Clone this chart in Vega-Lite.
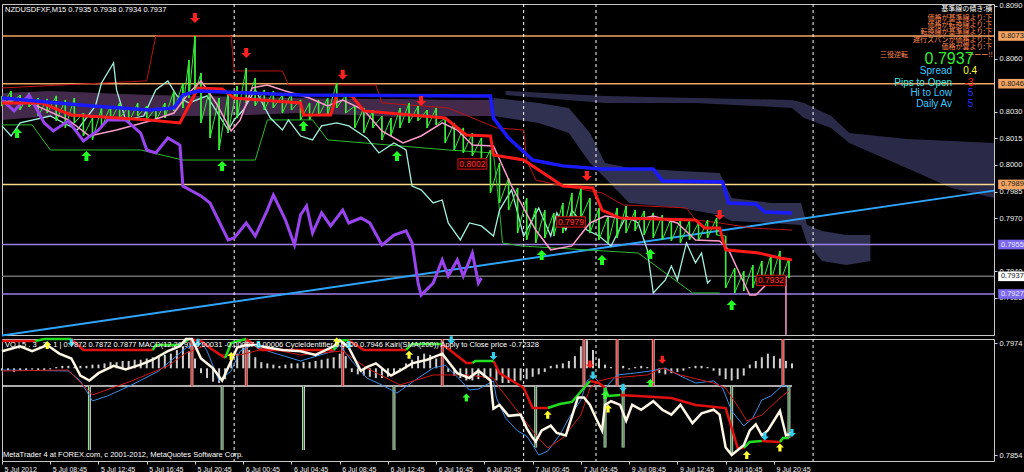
{
"$schema":"https://vega.github.io/schema/vega-lite/v6.json",
"background":"#000000",
"padding":{"left":-6,"top":1,"right":0,"bottom":0},
"spacing":4,
"bounds":"flush",
"config":{"view":{"stroke":"#c8c8c8","strokeWidth":1},"text":{"font":"Liberation Sans"},"axis":{"labelFont":"Liberation Sans"}},
"datasets":{
"bars":[{"i":0,"h":0.80391,"l":0.80334},{"i":3,"h":0.80419,"l":0.80351},{"i":6,"h":0.80396,"l":0.80311},{"i":9,"h":0.80408,"l":0.80328},{"i":12,"h":0.80379,"l":0.80277},{"i":15,"h":0.80374,"l":0.80294},{"i":18,"h":0.80391,"l":0.80249},{"i":21,"h":0.80368,"l":0.8021},{"i":24,"h":0.80379,"l":0.80238},{"i":27,"h":0.80294,"l":0.80164},{"i":30,"h":0.80266,"l":0.80142},{"i":33,"h":0.80323,"l":0.8021},{"i":36,"h":0.80334,"l":0.80249},{"i":39,"h":0.80351,"l":0.80266},{"i":42,"h":0.80328,"l":0.80238},{"i":45,"h":0.80351,"l":0.80277},{"i":48,"h":0.80334,"l":0.80255},{"i":51,"h":0.80323,"l":0.80249},{"i":54,"h":0.80351,"l":0.80266},{"i":57,"h":0.80419,"l":0.80306},{"i":60,"h":0.80464,"l":0.80323},{"i":62,"h":0.80594,"l":0.80379},{"i":64,"h":0.8073,"l":0.80408},{"i":66,"h":0.80521,"l":0.80238},{"i":69,"h":0.80436,"l":0.80153},{"i":72,"h":0.80379,"l":0.80085},{"i":75,"h":0.80408,"l":0.80181},{"i":78,"h":0.80447,"l":0.80266},{"i":81,"h":0.80549,"l":0.80351},{"i":84,"h":0.80492,"l":0.80334},{"i":87,"h":0.80425,"l":0.80311},{"i":90,"h":0.80419,"l":0.80323},{"i":93,"h":0.80396,"l":0.80294},{"i":96,"h":0.80408,"l":0.80311},{"i":99,"h":0.80368,"l":0.80255},{"i":102,"h":0.80351,"l":0.80255},{"i":105,"h":0.80368,"l":0.80277},{"i":108,"h":0.80379,"l":0.80283},{"i":111,"h":0.80464,"l":0.80323},{"i":114,"h":0.80396,"l":0.80294},{"i":117,"h":0.80334,"l":0.8021},{"i":120,"h":0.80323,"l":0.80181},{"i":123,"h":0.80311,"l":0.8021},{"i":126,"h":0.80277,"l":0.80142},{"i":129,"h":0.80266,"l":0.80164},{"i":132,"h":0.80323,"l":0.8021},{"i":135,"h":0.80351,"l":0.80238},{"i":138,"h":0.80334,"l":0.80249},{"i":141,"h":0.80311,"l":0.8021},{"i":144,"h":0.80323,"l":0.80227},{"i":147,"h":0.80266,"l":0.80125},{"i":150,"h":0.80238,"l":0.80085},{"i":153,"h":0.8021,"l":0.80068},{"i":156,"h":0.80181,"l":0.80051},{"i":159,"h":0.80153,"l":0.79983},{"i":162,"h":0.80085,"l":0.79842},{"i":165,"h":0.80011,"l":0.79785},{"i":168,"h":0.79926,"l":0.79745},{"i":171,"h":0.7987,"l":0.79615},{"i":174,"h":0.79813,"l":0.79576},{"i":177,"h":0.79757,"l":0.79559},{"i":180,"h":0.79745,"l":0.79587},{"i":183,"h":0.79729,"l":0.79598},{"i":186,"h":0.79785,"l":0.79615},{"i":189,"h":0.79842,"l":0.79661},{"i":192,"h":0.7987,"l":0.797},{"i":195,"h":0.79813,"l":0.79615},{"i":198,"h":0.79757,"l":0.79576},{"i":201,"h":0.79711,"l":0.79559},{"i":204,"h":0.79757,"l":0.79587},{"i":207,"h":0.79768,"l":0.79615},{"i":210,"h":0.79745,"l":0.79627},{"i":213,"h":0.7974,"l":0.79604},{"i":216,"h":0.79729,"l":0.79587},{"i":219,"h":0.79717,"l":0.79576},{"i":222,"h":0.797,"l":0.7957},{"i":225,"h":0.79689,"l":0.79559},{"i":228,"h":0.79683,"l":0.79576},{"i":231,"h":0.79672,"l":0.7957},{"i":234,"h":0.79689,"l":0.79587},{"i":237,"h":0.797,"l":0.79604},{"i":240,"h":0.79598,"l":0.79304},{"i":243,"h":0.79417,"l":0.79276},{"i":246,"h":0.794,"l":0.79287},{"i":249,"h":0.79434,"l":0.79304},{"i":252,"h":0.79457,"l":0.79321},{"i":255,"h":0.7949,"l":0.79344},{"i":258,"h":0.79513,"l":0.79332},{"i":261,"h":0.79474,"l":0.79361}],
"blue":[{"i":0,"p":0.80379},{"i":30,"p":0.80334},{"i":49,"p":0.80311},{"i":57,"p":0.80323},{"i":60,"p":0.80396},{"i":65,"p":0.80419},{"i":99,"p":0.80396},{"i":162,"p":0.80391},{"i":163,"p":0.80266},{"i":168,"p":0.80153},{"i":176,"p":0.80028},{"i":186,"p":0.79995},{"i":199,"p":0.79978},{"i":216,"p":0.79978},{"i":219,"p":0.7991},{"i":239,"p":0.79904},{"i":241,"p":0.79785},{"i":250,"p":0.79779},{"i":253,"p":0.79734},{"i":262,"p":0.79729}],
"redk":[{"i":0,"p":0.80351},{"i":13,"p":0.80351},{"i":23,"p":0.80283},{"i":49,"p":0.80255},{"i":59,"p":0.80238},{"i":65,"p":0.80436},{"i":73,"p":0.8043},{"i":77,"p":0.80379},{"i":99,"p":0.80351},{"i":100,"p":0.80283},{"i":109,"p":0.80283},{"i":111,"p":0.80396},{"i":116,"p":0.80391},{"i":120,"p":0.80306},{"i":147,"p":0.80266},{"i":154,"p":0.8017},{"i":162,"p":0.80164},{"i":163,"p":0.80057},{"i":173,"p":0.80028},{"i":186,"p":0.79881},{"i":196,"p":0.7987},{"i":199,"p":0.79745},{"i":205,"p":0.797},{"i":230,"p":0.79689},{"i":233,"p":0.79644},{"i":238,"p":0.79644},{"i":240,"p":0.7952},{"i":251,"p":0.79502},{"i":258,"p":0.79474},{"i":262,"p":0.79463}],
"purple":[{"i":0,"p":0.80368},{"i":4,"p":0.80306},{"i":9,"p":0.80396},{"i":14,"p":0.80238},{"i":17,"p":0.80193},{"i":22,"p":0.80249},{"i":27,"p":0.80136},{"i":32,"p":0.80198},{"i":35,"p":0.80255},{"i":41,"p":0.80255},{"i":46,"p":0.80181},{"i":48,"p":0.80085},{"i":51,"p":0.80068},{"i":55,"p":0.80153},{"i":59,"p":0.80113},{"i":60,"p":0.79881},{"i":66,"p":0.79825},{"i":69,"p":0.79785},{"i":75,"p":0.79576},{"i":77,"p":0.79587},{"i":81,"p":0.79672},{"i":84,"p":0.79598},{"i":88,"p":0.79745},{"i":90,"p":0.7983},{"i":94,"p":0.79689},{"i":97,"p":0.79547},{"i":99,"p":0.79717},{"i":101,"p":0.79768},{"i":103,"p":0.79615},{"i":106,"p":0.79729},{"i":109,"p":0.79655},{"i":113,"p":0.79745},{"i":115,"p":0.79672},{"i":119,"p":0.797},{"i":122,"p":0.79672},{"i":126,"p":0.79547},{"i":130,"p":0.79604},{"i":134,"p":0.79627},{"i":136,"p":0.79559},{"i":138,"p":0.79332},{"i":139,"p":0.79264},{"i":143,"p":0.79332},{"i":146,"p":0.79463},{"i":148,"p":0.79372},{"i":151,"p":0.79463},{"i":153,"p":0.79372},{"i":156,"p":0.79502},{"i":158,"p":0.79332},{"i":159,"p":0.79361}],
"pink":[{"i":0,"p":0.80351},{"i":6,"p":0.80379},{"i":13,"p":0.80323},{"i":22,"p":0.80255},{"i":29,"p":0.80164},{"i":38,"p":0.80198},{"i":49,"p":0.80249},{"i":57,"p":0.80294},{"i":62,"p":0.80408},{"i":66,"p":0.80476},{"i":71,"p":0.80351},{"i":76,"p":0.80193},{"i":79,"p":0.80255},{"i":83,"p":0.80436},{"i":88,"p":0.80453},{"i":94,"p":0.80419},{"i":102,"p":0.80379},{"i":108,"p":0.80334},{"i":113,"p":0.80368},{"i":120,"p":0.80311},{"i":126,"p":0.80193},{"i":133,"p":0.80125},{"i":139,"p":0.80164},{"i":146,"p":0.80238},{"i":151,"p":0.80198},{"i":156,"p":0.80113},{"i":163,"p":0.80108},{"i":169,"p":0.79881},{"i":177,"p":0.79632},{"i":182,"p":0.7952},{"i":189,"p":0.79542},{"i":195,"p":0.79672},{"i":200,"p":0.79711},{"i":210,"p":0.79689},{"i":216,"p":0.79711},{"i":224,"p":0.79672},{"i":230,"p":0.79576},{"i":238,"p":0.7957},{"i":241,"p":0.7952},{"i":245,"p":0.79372},{"i":248,"p":0.79264},{"i":250,"p":0.79264},{"i":254,"p":0.79332},{"i":259,"p":0.79366}],
"cyan":[{"i":0,"p":0.80221},{"i":3,"p":0.80164},{"i":6,"p":0.80238},{"i":16,"p":0.80277},{"i":25,"p":0.80198},{"i":31,"p":0.80334},{"i":33,"p":0.80464},{"i":37,"p":0.80577},{"i":38,"p":0.80425},{"i":41,"p":0.80255},{"i":47,"p":0.80277},{"i":51,"p":0.80425},{"i":55,"p":0.80476},{"i":58,"p":0.80391},{"i":62,"p":0.80351},{"i":68,"p":0.80391},{"i":75,"p":0.80198},{"i":77,"p":0.80255},{"i":80,"p":0.80311},{"i":84,"p":0.80425},{"i":89,"p":0.80266},{"i":93,"p":0.80198},{"i":95,"p":0.80255},{"i":99,"p":0.80164},{"i":103,"p":0.80142},{"i":106,"p":0.80221},{"i":111,"p":0.80238},{"i":115,"p":0.80221},{"i":121,"p":0.80153},{"i":125,"p":0.80068},{"i":130,"p":0.80125},{"i":134,"p":0.80085},{"i":136,"p":0.79881},{"i":139,"p":0.79859},{"i":143,"p":0.79785},{"i":146,"p":0.79802},{"i":148,"p":0.79672},{"i":152,"p":0.79576},{"i":155,"p":0.79672},{"i":159,"p":0.79655},{"i":163,"p":0.79598},{"i":165,"p":0.79745},{"i":169,"p":0.79859},{"i":173,"p":0.79598},{"i":178,"p":0.79757},{"i":182,"p":0.79598},{"i":184,"p":0.79729},{"i":187,"p":0.79632},{"i":189,"p":0.79745},{"i":194,"p":0.79632},{"i":198,"p":0.79598},{"i":202,"p":0.79542},{"i":207,"p":0.79711},{"i":211,"p":0.79672},{"i":214,"p":0.7952},{"i":216,"p":0.79276},{"i":220,"p":0.7935},{"i":222,"p":0.79428},{"i":224,"p":0.7935},{"i":227,"p":0.79559},{"i":230,"p":0.79446},{"i":232,"p":0.79502},{"i":234,"p":0.79332},{"i":235,"p":0.7935}],
"greenthin":[{"i":0,"p":0.80227},{"i":10,"p":0.80227},{"i":16,"p":0.80085},{"i":46,"p":0.80085},{"i":60,"p":0.80028},{"i":84,"p":0.80028},{"i":88,"p":0.80255},{"i":103,"p":0.80255},{"i":108,"p":0.80142},{"i":148,"p":0.80085},{"i":163,"p":0.80068},{"i":165,"p":0.79745},{"i":166,"p":0.79559},{"i":172,"p":0.79542},{"i":211,"p":0.79502},{"i":229,"p":0.79276},{"i":238,"p":0.79276}],
"redthin":[{"i":0,"p":0.80436},{"i":48,"p":0.80476},{"i":51,"p":0.8073},{"i":76,"p":0.8073},{"i":77,"p":0.80532},{"i":93,"p":0.80532},{"i":95,"p":0.80453},{"i":124,"p":0.80453},{"i":126,"p":0.80351},{"i":148,"p":0.80323},{"i":164,"p":0.8021},{"i":173,"p":0.80198},{"i":174,"p":0.80028},{"i":177,"p":0.79915},{"i":186,"p":0.79881},{"i":199,"p":0.79842},{"i":206,"p":0.79774},{"i":227,"p":0.79757},{"i":230,"p":0.79689},{"i":238,"p":0.79672},{"i":249,"p":0.79643},{"i":262,"p":0.79632}],
"hist":[{"i":0,"v":74,"z":76},{"i":2,"v":74,"z":76},{"i":4,"v":73,"z":76},{"i":6,"v":74,"z":76},{"i":8,"v":74,"z":76},{"i":10,"v":75,"z":76},{"i":12,"v":74,"z":76},{"i":14,"v":74,"z":76},{"i":16,"v":75,"z":76},{"i":18,"v":77,"z":76},{"i":20,"v":78,"z":76},{"i":22,"v":78,"z":76},{"i":24,"v":77,"z":76},{"i":26,"v":78,"z":76},{"i":28,"v":78,"z":76},{"i":30,"v":79,"z":76},{"i":32,"v":79,"z":76},{"i":34,"v":80,"z":76},{"i":36,"v":81,"z":76},{"i":38,"v":81,"z":76},{"i":40,"v":82,"z":76},{"i":42,"v":82,"z":76},{"i":44,"v":83,"z":76},{"i":46,"v":83,"z":76},{"i":48,"v":84,"z":76},{"i":50,"v":85,"z":76},{"i":52,"v":86,"z":76},{"i":54,"v":87,"z":76},{"i":56,"v":88,"z":76},{"i":58,"v":91,"z":76},{"i":60,"v":94,"z":76},{"i":62,"v":90,"z":76},{"i":64,"v":84,"z":76},{"i":66,"v":72,"z":76},{"i":68,"v":68,"z":76},{"i":70,"v":65,"z":76},{"i":72,"v":64,"z":76},{"i":74,"v":67,"z":76},{"i":76,"v":81,"z":76},{"i":78,"v":88,"z":76},{"i":80,"v":93,"z":76},{"i":82,"v":91,"z":76},{"i":84,"v":85,"z":76},{"i":86,"v":81,"z":76},{"i":88,"v":80,"z":76},{"i":90,"v":79,"z":76},{"i":92,"v":78,"z":76},{"i":94,"v":79,"z":76},{"i":96,"v":80,"z":76},{"i":98,"v":80,"z":76},{"i":100,"v":81,"z":76},{"i":102,"v":81,"z":76},{"i":104,"v":82,"z":76},{"i":106,"v":83,"z":76},{"i":108,"v":84,"z":76},{"i":110,"v":85,"z":76},{"i":112,"v":88,"z":76},{"i":114,"v":86,"z":76},{"i":116,"v":73,"z":76},{"i":118,"v":71,"z":76},{"i":120,"v":70,"z":76},{"i":122,"v":69,"z":76},{"i":124,"v":68,"z":76},{"i":126,"v":68,"z":76},{"i":128,"v":69,"z":76},{"i":130,"v":71,"z":76},{"i":132,"v":74,"z":76},{"i":134,"v":80,"z":76},{"i":136,"v":83,"z":76},{"i":138,"v":86,"z":76},{"i":140,"v":88,"z":76},{"i":142,"v":87,"z":76},{"i":144,"v":84,"z":76},{"i":146,"v":79,"z":76},{"i":148,"v":73,"z":76},{"i":150,"v":70,"z":76},{"i":152,"v":68,"z":76},{"i":154,"v":66,"z":76},{"i":156,"v":66,"z":76},{"i":158,"v":67,"z":76},{"i":160,"v":68,"z":76},{"i":162,"v":69,"z":76},{"i":164,"v":66,"z":76},{"i":166,"v":64,"z":76},{"i":168,"v":64,"z":76},{"i":170,"v":65,"z":76},{"i":172,"v":66,"z":76},{"i":174,"v":67,"z":76},{"i":176,"v":69,"z":76},{"i":178,"v":71,"z":76},{"i":180,"v":73,"z":76},{"i":182,"v":78,"z":76},{"i":184,"v":79,"z":76},{"i":186,"v":80,"z":76},{"i":188,"v":82,"z":76},{"i":190,"v":86,"z":76},{"i":192,"v":94,"z":76},{"i":194,"v":99,"z":76},{"i":196,"v":91,"z":76},{"i":198,"v":84,"z":76},{"i":200,"v":79,"z":76},{"i":202,"v":77,"z":76},{"i":204,"v":78,"z":76},{"i":206,"v":78,"z":76},{"i":208,"v":75,"z":76},{"i":210,"v":77,"z":76},{"i":212,"v":78,"z":76},{"i":214,"v":77,"z":76},{"i":216,"v":73,"z":76},{"i":218,"v":72,"z":76},{"i":220,"v":71,"z":76},{"i":222,"v":72,"z":76},{"i":224,"v":73,"z":76},{"i":226,"v":74,"z":76},{"i":228,"v":77,"z":76},{"i":230,"v":78,"z":76},{"i":232,"v":78,"z":76},{"i":234,"v":77,"z":76},{"i":236,"v":74,"z":76},{"i":238,"v":70,"z":76},{"i":240,"v":67,"z":76},{"i":242,"v":66,"z":76},{"i":244,"v":67,"z":76},{"i":246,"v":70,"z":76},{"i":248,"v":79,"z":76},{"i":250,"v":82,"z":76},{"i":252,"v":85,"z":76},{"i":254,"v":88,"z":76},{"i":256,"v":86,"z":76},{"i":258,"v":84,"z":76},{"i":260,"v":82,"z":76},{"i":262,"v":80,"z":76}],
"white":[{"i":0,"v":90},{"i":6,"v":94},{"i":10,"v":90},{"i":15,"v":95},{"i":19,"v":88},{"i":23,"v":84},{"i":26,"v":70},{"i":29,"v":66},{"i":32,"v":72},{"i":37,"v":78},{"i":41,"v":75},{"i":46,"v":79},{"i":50,"v":83},{"i":55,"v":90},{"i":59,"v":94},{"i":61,"v":100},{"i":63,"v":100},{"i":66,"v":84},{"i":70,"v":76},{"i":73,"v":66},{"i":76,"v":82},{"i":78,"v":93},{"i":81,"v":95},{"i":84,"v":95},{"i":88,"v":93},{"i":93,"v":91},{"i":99,"v":90},{"i":104,"v":87},{"i":110,"v":94},{"i":112,"v":99},{"i":115,"v":93},{"i":119,"v":74},{"i":121,"v":77},{"i":124,"v":80},{"i":129,"v":70},{"i":132,"v":74},{"i":136,"v":80},{"i":141,"v":83},{"i":146,"v":88},{"i":151,"v":72},{"i":155,"v":68},{"i":158,"v":74},{"i":162,"v":66},{"i":163,"v":43},{"i":165,"v":46},{"i":168,"v":37},{"i":172,"v":38},{"i":174,"v":27},{"i":176,"v":19},{"i":177,"v":16},{"i":179,"v":25},{"i":182,"v":29},{"i":184,"v":23},{"i":187,"v":21},{"i":191,"v":52},{"i":193,"v":52},{"i":195,"v":46},{"i":197,"v":35},{"i":199,"v":25},{"i":200,"v":46},{"i":202,"v":49},{"i":205,"v":46},{"i":207,"v":33},{"i":209,"v":46},{"i":212,"v":42},{"i":216,"v":49},{"i":219,"v":42},{"i":222,"v":38},{"i":225,"v":46},{"i":229,"v":31},{"i":232,"v":39},{"i":236,"v":42},{"i":238,"v":38},{"i":240,"v":11},{"i":242,"v":5},{"i":246,"v":13},{"i":248,"v":25},{"i":250,"v":30},{"i":252,"v":21},{"i":254,"v":25},{"i":258,"v":41},{"i":260,"v":21},{"i":262,"v":23}],
"bluethin":[{"i":0,"v":74.6},{"i":22,"v":73.8},{"i":26,"v":65.6},{"i":30,"v":49.2},{"i":35,"v":53.3},{"i":43,"v":62.3},{"i":52,"v":73.8},{"i":61,"v":92.6},{"i":66,"v":98.4},{"i":68,"v":90.2},{"i":72,"v":65.6},{"i":76,"v":73.8},{"i":79,"v":90.2},{"i":83,"v":95.1},{"i":88,"v":90.2},{"i":99,"v":82},{"i":110,"v":90.2},{"i":112,"v":95.1},{"i":116,"v":82},{"i":121,"v":68},{"i":126,"v":62.3},{"i":131,"v":55.7},{"i":138,"v":68},{"i":143,"v":76.2},{"i":147,"v":78.7},{"i":152,"v":66.4},{"i":155,"v":58.2},{"i":158,"v":59},{"i":163,"v":65.6},{"i":164,"v":51.6},{"i":167,"v":35.2},{"i":171,"v":24.6},{"i":174,"v":20.5},{"i":176,"v":13.1},{"i":178,"v":4.9},{"i":181,"v":8.2},{"i":185,"v":21.3},{"i":188,"v":35.2},{"i":192,"v":50},{"i":194,"v":65.6},{"i":196,"v":69.7},{"i":200,"v":59.8},{"i":204,"v":70.5},{"i":210,"v":72.1},{"i":215,"v":73.8},{"i":220,"v":76.2},{"i":225,"v":69.7},{"i":230,"v":63.9},{"i":236,"v":65.6},{"i":239,"v":59.8},{"i":242,"v":41},{"i":246,"v":28.7},{"i":249,"v":35.2},{"i":252,"v":50},{"i":255,"v":53.3},{"i":259,"v":62.3},{"i":261,"v":59.8}],
"redthin2":[{"i":0,"v":73.8},{"i":22,"v":74.6},{"i":30,"v":54.1},{"i":43,"v":65.6},{"i":55,"v":77.9},{"i":61,"v":88.5},{"i":68,"v":95.1},{"i":72,"v":86.9},{"i":79,"v":86.9},{"i":88,"v":92.6},{"i":99,"v":86.9},{"i":113,"v":90.2},{"i":121,"v":76.2},{"i":132,"v":62.3},{"i":143,"v":70.5},{"i":154,"v":70.5},{"i":163,"v":68},{"i":165,"v":59.8},{"i":172,"v":37.7},{"i":177,"v":21.3},{"i":181,"v":10.7},{"i":186,"v":18.9},{"i":192,"v":37.7},{"i":195,"v":59.8},{"i":198,"v":65.6},{"i":202,"v":68},{"i":214,"v":70.5},{"i":219,"v":76.2},{"i":225,"v":70.5},{"i":236,"v":63.9},{"i":240,"v":59.8},{"i":245,"v":41},{"i":247,"v":32.8},{"i":252,"v":37.7},{"i":258,"v":51.6},{"i":261,"v":57.4}],
"stepred":[{"s":1,"i":0,"v":98.4},{"s":1,"i":11,"v":98.4},{"s":3,"i":23,"v":100},{"s":3,"i":27,"v":91},{"s":3,"i":50,"v":91},{"s":5,"i":62,"v":100},{"s":5,"i":66,"v":98.4},{"s":5,"i":69,"v":92.6},{"s":5,"i":74,"v":84.4},{"s":7,"i":81,"v":100},{"s":7,"i":86,"v":91},{"s":7,"i":110,"v":91},{"s":9,"i":115,"v":99},{"s":9,"i":120,"v":91},{"s":9,"i":134,"v":91},{"s":11,"i":146,"v":95.9},{"s":11,"i":154,"v":80.3},{"s":11,"i":156,"v":80.3},{"s":13,"i":163,"v":82},{"s":13,"i":165,"v":72},{"s":13,"i":173,"v":60},{"s":13,"i":176,"v":43.4},{"s":13,"i":181,"v":43.4},{"s":15,"i":195,"v":65.6},{"s":15,"i":198,"v":63.9},{"s":15,"i":200,"v":60},{"s":17,"i":205,"v":54.1},{"s":17,"i":222,"v":51.6},{"s":17,"i":230,"v":45.9},{"s":17,"i":240,"v":43.4},{"s":17,"i":244,"v":10.7},{"s":17,"i":246,"v":10.7},{"s":19,"i":252,"v":16.4},{"s":19,"i":258,"v":15.6}],
"stepgreen":[{"s":2,"i":11,"v":98.4},{"s":2,"i":14,"v":100},{"s":2,"i":23,"v":100},{"s":4,"i":50,"v":91},{"s":4,"i":51,"v":95.1},{"s":4,"i":59,"v":95.1},{"s":4,"i":62,"v":100},{"s":6,"i":74,"v":84.4},{"s":6,"i":76,"v":96.7},{"s":6,"i":81,"v":100},{"s":8,"i":110,"v":91},{"s":8,"i":112,"v":99},{"s":8,"i":115,"v":99},{"s":10,"i":134,"v":91},{"s":10,"i":136,"v":95.9},{"s":10,"i":146,"v":95.9},{"s":12,"i":156,"v":80.3},{"s":12,"i":157,"v":82},{"s":12,"i":163,"v":82},{"s":14,"i":181,"v":43.4},{"s":14,"i":185,"v":46.7},{"s":14,"i":189,"v":48.4},{"s":14,"i":195,"v":65.6},{"s":16,"i":200,"v":60},{"s":16,"i":201,"v":53.3},{"s":16,"i":205,"v":54.1},{"s":18,"i":246,"v":10.7},{"s":18,"i":248,"v":15.6},{"s":18,"i":252,"v":16.4},{"s":20,"i":258,"v":15.6},{"s":20,"i":259,"v":18.9},{"s":20,"i":261,"v":18.9}],
"days":[{"i":77},{"i":173},{"i":197},{"i":269}],
"dspk":[{"i":29,"b":9,"t":61.5},{"i":73,"b":9,"t":61.5},{"i":100,"b":9,"t":61.5},{"i":130,"b":9,"t":61.5},{"i":177,"b":11,"t":61.5},{"i":200,"b":11,"t":61.5},{"i":206,"b":11,"t":61.5},{"i":242,"b":5,"t":61.5},{"i":261,"b":19,"t":61.5}],
"uspk":[{"i":63,"b":61.5,"t":100},{"i":81,"b":61.5,"t":100},{"i":113,"b":61.5,"t":100},{"i":146,"b":61.5,"t":100},{"i":193,"b":61.5,"t":100},{"i":204,"b":61.5,"t":100},{"i":216,"b":61.5,"t":100},{"i":259,"b":61.5,"t":100}]
},
"vconcat":[
{"width":992,"height":331,"resolve":{"axis":{"x":"independent","y":"independent"}},"layer":[
{"data":{"values":[{"i":0,"a":0.80408,"b":0.80255},{"i":16,"a":0.80419,"b":0.80277},{"i":32,"a":0.80408,"b":0.80266},{"i":49,"a":0.80396,"b":0.80277},{"i":66,"a":0.80391,"b":0.80277},{"i":82,"a":0.80385,"b":0.80283},{"i":99,"a":0.80379,"b":0.80294},{"i":115,"a":0.80374,"b":0.80283},{"i":132,"a":0.80374,"b":0.80272},{"i":149,"a":0.80368,"b":0.80277},{"i":163,"a":0.80368,"b":0.80277}]},
"mark":{"type":"area","color":"#a868b8","opacity":0.4},
"encoding":{"x":{"field":"i","type":"quantitative","scale":{"domain":[0,329],"nice":false,"zero":false},"axis":null},
"y":{"field":"a","type":"quantitative","scale":{"domain":[0.79038,0.80911],"nice":false,"zero":false},"axis":{"orient":"right","title":null,"values":[0.809,0.806,0.803,0.8015,0.8,0.7985,0.797,0.794,0.7925],"format":".4f","labelColor":"#f0f0f0","labelFontSize":7.5,"tickColor":"#d0d0d0","tickSize":3,"labelPadding":2,"domain":false,"grid":false,"labelFlush":false,"labelOverlap":false}},
"y2":{"field":"b"}}},
{"data":{"values":[{"i":163,"a":0.80379,"b":0.80277},{"i":178,"a":0.80351,"b":0.80238},{"i":188,"a":0.80323,"b":0.80181},{"i":195,"a":0.80181,"b":0.80011},{"i":200,"a":0.80011,"b":0.79926},{"i":208,"a":0.79983,"b":0.79785},{"i":225,"a":0.79966,"b":0.79757},{"i":238,"a":0.79955,"b":0.79717},{"i":242,"a":0.79813,"b":0.79683},{"i":255,"a":0.79785,"b":0.79672},{"i":265,"a":0.79785,"b":0.79661},{"i":267,"a":0.79661,"b":0.79559},{"i":272,"a":0.79627,"b":0.79457},{"i":280,"a":0.79604,"b":0.79434},{"i":288,"a":0.79604,"b":0.79457}]},
"mark":{"type":"area","color":"#6a6ab4","opacity":0.45},
"encoding":{"x":{"field":"i","type":"quantitative","scale":{"domain":[0,329],"nice":false,"zero":false},"axis":null},"y":{"field":"a","type":"quantitative","scale":{"domain":[0.79038,0.80911],"nice":false,"zero":false},"axis":null},"y2":{"field":"b"}}},
{"data":{"values":[{"i":167,"a":0.80419,"b":0.80396},{"i":200,"a":0.80391,"b":0.80351},{"i":230,"a":0.80379,"b":0.80351},{"i":262,"a":0.80368,"b":0.80323},{"i":266,"a":0.80351,"b":0.80266},{"i":275,"a":0.80277,"b":0.8021},{"i":281,"a":0.80181,"b":0.80125},{"i":300,"a":0.80147,"b":0.79983},{"i":315,"a":0.80136,"b":0.7987},{"i":329,"a":0.80125,"b":0.79813}]},
"mark":{"type":"area","color":"#6a6ab4","opacity":0.4},
"encoding":{"x":{"field":"i","type":"quantitative","scale":{"domain":[0,329],"nice":false,"zero":false},"axis":null},"y":{"field":"a","type":"quantitative","scale":{"domain":[0.79038,0.80911],"nice":false,"zero":false},"axis":null},"y2":{"field":"b"}}},
{"data":{"values":[{"p":0.8073},{"p":0.8046}]},"mark":{"type":"rule","color":"#f4a460","strokeWidth":1.5},"encoding":{"y":{"field":"p","type":"quantitative","scale":{"domain":[0.79038,0.80911],"nice":false,"zero":false},"axis":null}}},
{"data":{"values":[{"p":0.7989}]},"mark":{"type":"rule","color":"#ffd98a","strokeWidth":1.5},"encoding":{"y":{"field":"p","type":"quantitative","scale":{"domain":[0.79038,0.80911],"nice":false,"zero":false},"axis":null}}},
{"data":{"values":[{"p":0.7955},{"p":0.7927}]},"mark":{"type":"rule","color":"#9b7fe8","strokeWidth":1.5},"encoding":{"y":{"field":"p","type":"quantitative","scale":{"domain":[0.79038,0.80911],"nice":false,"zero":false},"axis":null}}},
{"data":{"values":[{"p":0.7937}]},"mark":{"type":"rule","color":"#6e6e6e","strokeWidth":1.5},"encoding":{"y":{"field":"p","type":"quantitative","scale":{"domain":[0.79038,0.80911],"nice":false,"zero":false},"axis":null}}},
{"data":{"name":"days"},"mark":{"type":"rule","color":"#ffffff","strokeDash":[3,3],"strokeWidth":1},"encoding":{"x":{"field":"i","type":"quantitative","scale":{"domain":[0,329],"nice":false,"zero":false},"axis":null}}},
{"data":{"values":[{"i":0,"p":0.79035},{"i":329,"p":0.79855}]},"mark":{"type":"line","color":"#2fa4ff","strokeWidth":2},"encoding":{"x":{"field":"i","type":"quantitative","scale":{"domain":[0,329],"nice":false,"zero":false},"axis":null},"y":{"field":"p","type":"quantitative","scale":{"domain":[0.79038,0.80911],"nice":false,"zero":false},"axis":null}}},
{"data":{"name":"redthin"},"mark":{"type":"line","color":"#b81414","strokeWidth":1},"encoding":{"x":{"field":"i","type":"quantitative","scale":{"domain":[0,329],"nice":false,"zero":false},"axis":null},"y":{"field":"p","type":"quantitative","scale":{"domain":[0.79038,0.80911],"nice":false,"zero":false},"axis":null}}},
{"data":{"name":"greenthin"},"mark":{"type":"line","color":"#2dbb2d","strokeWidth":1},"encoding":{"x":{"field":"i","type":"quantitative","scale":{"domain":[0,329],"nice":false,"zero":false},"axis":null},"y":{"field":"p","type":"quantitative","scale":{"domain":[0.79038,0.80911],"nice":false,"zero":false},"axis":null}}},
{"data":{"name":"cyan"},"mark":{"type":"line","color":"#a0f0dc","strokeWidth":1.3},"encoding":{"x":{"field":"i","type":"quantitative","scale":{"domain":[0,329],"nice":false,"zero":false},"axis":null},"y":{"field":"p","type":"quantitative","scale":{"domain":[0.79038,0.80911],"nice":false,"zero":false},"axis":null}}},
{"data":{"name":"bars"},"mark":{"type":"rule","color":"#4dff4d","strokeWidth":1.5},"encoding":{"x":{"field":"i","type":"quantitative","scale":{"domain":[0,329],"nice":false,"zero":false},"axis":null},"y":{"field":"h","type":"quantitative","scale":{"domain":[0.79038,0.80911],"nice":false,"zero":false},"axis":null},"y2":{"field":"l"}}},
{"data":{"name":"bars"},"transform":[{"fold":["h","l"],"as":["k","p"]}],"mark":{"type":"line","color":"#33ee33","strokeWidth":1},"encoding":{"x":{"field":"i","type":"quantitative","scale":{"domain":[0,329],"nice":false,"zero":false},"axis":null},"y":{"field":"p","type":"quantitative","scale":{"domain":[0.79038,0.80911],"nice":false,"zero":false},"axis":null}}},
{"data":{"name":"pink"},"mark":{"type":"line","color":"#ff9ccc","strokeWidth":1.5},"encoding":{"x":{"field":"i","type":"quantitative","scale":{"domain":[0,329],"nice":false,"zero":false},"axis":null},"y":{"field":"p","type":"quantitative","scale":{"domain":[0.79038,0.80911],"nice":false,"zero":false},"axis":null}}},
{"data":{"values":[{"i":260,"p":0.7937,"q":0.7904}]},"mark":{"type":"rule","color":"#ff9ccc","strokeWidth":1.5},"encoding":{"x":{"field":"i","type":"quantitative","scale":{"domain":[0,329],"nice":false,"zero":false},"axis":null},"y":{"field":"p","type":"quantitative","scale":{"domain":[0.79038,0.80911],"nice":false,"zero":false},"axis":null},"y2":{"field":"q"}}},
{"data":{"name":"purple"},"mark":{"type":"line","color":"#9a44f0","strokeWidth":3},"encoding":{"x":{"field":"i","type":"quantitative","scale":{"domain":[0,329],"nice":false,"zero":false},"axis":null},"y":{"field":"p","type":"quantitative","scale":{"domain":[0.79038,0.80911],"nice":false,"zero":false},"axis":null}}},
{"data":{"name":"redk"},"mark":{"type":"line","color":"#ff1a1a","strokeWidth":3},"encoding":{"x":{"field":"i","type":"quantitative","scale":{"domain":[0,329],"nice":false,"zero":false},"axis":null},"y":{"field":"p","type":"quantitative","scale":{"domain":[0.79038,0.80911],"nice":false,"zero":false},"axis":null}}},
{"data":{"name":"blue"},"mark":{"type":"line","color":"#1a1aff","strokeWidth":3.5},"encoding":{"x":{"field":"i","type":"quantitative","scale":{"domain":[0,329],"nice":false,"zero":false},"axis":null},"y":{"field":"p","type":"quantitative","scale":{"domain":[0.79038,0.80911],"nice":false,"zero":false},"axis":null}}},
{"data":{"values":[{"i":156,"p":0.80006,"t":"0.8002"},{"i":188.7,"p":0.79678,"t":"0.7979"},{"i":255,"p":0.79347,"t":"0.7932"}]},"mark":{"type":"point","shape":"M-1,-0.36H1V0.36H-1Z","size":841,"filled":true,"fill":"#220000","stroke":"#d01010","strokeWidth":1,"opacity":1},"encoding":{"x":{"field":"i","type":"quantitative","scale":{"domain":[0,329],"nice":false,"zero":false},"axis":null},"y":{"field":"p","type":"quantitative","scale":{"domain":[0.79038,0.80911],"nice":false,"zero":false},"axis":null}}},
{"data":{"values":[{"i":156,"p":0.80006,"t":"0.8002"},{"i":188.7,"p":0.79678,"t":"0.7979"},{"i":255,"p":0.79347,"t":"0.7932"}]},"mark":{"type":"text","color":"#ff3030","fontSize":8.5,"align":"center","baseline":"middle"},"encoding":{"x":{"field":"i","type":"quantitative","scale":{"domain":[0,329],"nice":false,"zero":false},"axis":null},"y":{"field":"p","type":"quantitative","scale":{"domain":[0.79038,0.80911],"nice":false,"zero":false},"axis":null},"text":{"field":"t","type":"nominal"}}},
{"data":{"values":[{"i":64,"p":0.80832},{"i":81,"p":0.80634},{"i":113,"p":0.8051},{"i":139,"p":0.80362},{"i":194,"p":0.79938},{"i":238,"p":0.79717}]},"mark":{"type":"point","shape":"M0,1L1,0H0.4V-1H-0.4V0H-1Z","size":100,"filled":true,"color":"#ff2020","opacity":1},"encoding":{"x":{"field":"i","type":"quantitative","scale":{"domain":[0,329],"nice":false,"zero":false},"axis":null},"y":{"field":"p","type":"quantitative","scale":{"domain":[0.79038,0.80911],"nice":false,"zero":false},"axis":null}}},
{"data":{"values":[{"i":5,"p":0.80181},{"i":28,"p":0.80051},{"i":73,"p":0.79994},{"i":100,"p":0.80221},{"i":131,"p":0.80051},{"i":179,"p":0.79491},{"i":199,"p":0.79462},{"i":215,"p":0.79497},{"i":242,"p":0.79208}]},"mark":{"type":"point","shape":"M0,-1L1,0H0.4V1H-0.4V0H-1Z","size":100,"filled":true,"color":"#22ff22","opacity":1},"encoding":{"x":{"field":"i","type":"quantitative","scale":{"domain":[0,329],"nice":false,"zero":false},"axis":null},"y":{"field":"p","type":"quantitative","scale":{"domain":[0.79038,0.80911],"nice":false,"zero":false},"axis":null}}},
{"data":{"values":[{"i":334.7,"p":0.8073},{"i":334.7,"p":0.8046},{"i":334.7,"p":0.7989}]},"mark":{"type":"point","shape":"M-1,-0.37H1V0.37H-1Z","size":676,"filled":true,"color":"#f4a460","opacity":1},"encoding":{"x":{"field":"i","type":"quantitative","scale":{"domain":[0,329],"nice":false,"zero":false},"axis":null},"y":{"field":"p","type":"quantitative","scale":{"domain":[0.79038,0.80911],"nice":false,"zero":false},"axis":null}}},
{"data":{"values":[{"i":334.7,"p":0.7955},{"i":334.7,"p":0.7927}]},"mark":{"type":"point","shape":"M-1,-0.37H1V0.37H-1Z","size":676,"filled":true,"color":"#7b68ee","opacity":1},"encoding":{"x":{"field":"i","type":"quantitative","scale":{"domain":[0,329],"nice":false,"zero":false},"axis":null},"y":{"field":"p","type":"quantitative","scale":{"domain":[0.79038,0.80911],"nice":false,"zero":false},"axis":null}}},
{"data":{"values":[{"i":334.7,"p":0.7937}]},"mark":{"type":"point","shape":"M-1,-0.37H1V0.37H-1Z","size":676,"filled":true,"color":"#ffffff","opacity":1},"encoding":{"x":{"field":"i","type":"quantitative","scale":{"domain":[0,329],"nice":false,"zero":false},"axis":null},"y":{"field":"p","type":"quantitative","scale":{"domain":[0.79038,0.80911],"nice":false,"zero":false},"axis":null}}},
{"data":{"values":[{"i":331.3,"p":0.8073,"t":"0.8073"},{"i":331.3,"p":0.8046,"t":"0.8046"},{"i":331.3,"p":0.7989,"t":"0.7989"},{"i":331.3,"p":0.7937,"t":"0.7937"}]},"mark":{"type":"text","color":"#202020","fontSize":7.5,"align":"left","baseline":"middle"},"encoding":{"x":{"field":"i","type":"quantitative","scale":{"domain":[0,329],"nice":false,"zero":false},"axis":null},"y":{"field":"p","type":"quantitative","scale":{"domain":[0.79038,0.80911],"nice":false,"zero":false},"axis":null},"text":{"field":"t","type":"nominal"}}},
{"data":{"values":[{"i":331.3,"p":0.7955,"t":"0.7955"},{"i":331.3,"p":0.7927,"t":"0.7927"}]},"mark":{"type":"text","color":"#e8e8ff","fontSize":7.5,"align":"left","baseline":"middle"},"encoding":{"x":{"field":"i","type":"quantitative","scale":{"domain":[0,329],"nice":false,"zero":false},"axis":null},"y":{"field":"p","type":"quantitative","scale":{"domain":[0.79038,0.80911],"nice":false,"zero":false},"axis":null},"text":{"field":"t","type":"nominal"}}},
{"data":{"values":[{"i":1,"p":0.80877,"t":"NZDUSDFXF,M15  0.7935 0.7938 0.7934 0.7937"}]},"mark":{"type":"text","color":"#ffffff","fontSize":7.5,"align":"left","baseline":"middle"},"encoding":{"x":{"field":"i","type":"quantitative","scale":{"domain":[0,329],"nice":false,"zero":false},"axis":null},"y":{"field":"p","type":"quantitative","scale":{"domain":[0.79038,0.80911],"nice":false,"zero":false},"axis":null},"text":{"field":"t","type":"nominal"}}},
{"data":{"values":[{"i":328.4,"p":0.80883,"t":"基準線の傾き:横"}]},"mark":{"type":"text","color":"#ffffff","fontSize":7,"font":"Noto Sans CJK JP","align":"right","baseline":"middle"},"encoding":{"x":{"field":"i","type":"quantitative","scale":{"domain":[0,329],"nice":false,"zero":false},"axis":null},"y":{"field":"p","type":"quantitative","scale":{"domain":[0.79038,0.80911],"nice":false,"zero":false},"axis":null},"text":{"field":"t","type":"nominal"}}},
{"data":{"values":[{"i":328.4,"p":0.80834,"t":"価格が基準線より:下"},{"i":328.4,"p":0.80792,"t":"価格が転換線より:下"},{"i":328.4,"p":0.8075,"t":"転換線が基準線より:下"},{"i":328.4,"p":0.80708,"t":"遅行スパンが価格より:下"},{"i":328.4,"p":0.80666,"t":"価格が雲より:下"},{"i":328.6,"p":0.80624,"t":"ーーー!!"}]},"mark":{"type":"text","color":"#ff8a50","fontSize":7,"font":"Noto Sans CJK JP","align":"right","baseline":"middle"},"encoding":{"x":{"field":"i","type":"quantitative","scale":{"domain":[0,329],"nice":false,"zero":false},"axis":null},"y":{"field":"p","type":"quantitative","scale":{"domain":[0.79038,0.80911],"nice":false,"zero":false},"axis":null},"text":{"field":"t","type":"nominal"}}},
{"data":{"values":[{"i":291.2,"p":0.80624,"t":"三役逆転"}]},"mark":{"type":"text","color":"#ff8a50","fontSize":7,"font":"Noto Sans CJK JP","align":"left","baseline":"middle"},"encoding":{"x":{"field":"i","type":"quantitative","scale":{"domain":[0,329],"nice":false,"zero":false},"axis":null},"y":{"field":"p","type":"quantitative","scale":{"domain":[0.79038,0.80911],"nice":false,"zero":false},"axis":null},"text":{"field":"t","type":"nominal"}}},
{"data":{"values":[{"i":314.1,"p":0.806,"t":"0.7937"}]},"mark":{"type":"text","color":"#33ee33","fontSize":16,"align":"center","baseline":"middle"},"encoding":{"x":{"field":"i","type":"quantitative","scale":{"domain":[0,329],"nice":false,"zero":false},"axis":null},"y":{"field":"p","type":"quantitative","scale":{"domain":[0.79038,0.80911],"nice":false,"zero":false},"axis":null},"text":{"field":"t","type":"nominal"}}},
{"data":{"values":[{"i":315.1,"p":0.80531,"t":"Spread"},{"i":315.1,"p":0.80408,"t":"Hi to Low"},{"i":315.1,"p":0.80347,"t":"Daily Av"}]},"mark":{"type":"text","color":"#3cc8ff","fontSize":10,"align":"right","baseline":"middle"},"encoding":{"x":{"field":"i","type":"quantitative","scale":{"domain":[0,329],"nice":false,"zero":false},"axis":null},"y":{"field":"p","type":"quantitative","scale":{"domain":[0.79038,0.80911],"nice":false,"zero":false},"axis":null},"text":{"field":"t","type":"nominal"}}},
{"data":{"values":[{"i":315.1,"p":0.80464,"t":"Pips to Open"}]},"mark":{"type":"text","color":"#40e8e0","fontSize":10,"align":"right","baseline":"middle"},"encoding":{"x":{"field":"i","type":"quantitative","scale":{"domain":[0,329],"nice":false,"zero":false},"axis":null},"y":{"field":"p","type":"quantitative","scale":{"domain":[0.79038,0.80911],"nice":false,"zero":false},"axis":null},"text":{"field":"t","type":"nominal"}}},
{"data":{"values":[{"i":318.8,"p":0.80531,"t":"0.4"}]},"mark":{"type":"text","color":"#ffff33","fontSize":10,"align":"left","baseline":"middle"},"encoding":{"x":{"field":"i","type":"quantitative","scale":{"domain":[0,329],"nice":false,"zero":false},"axis":null},"y":{"field":"p","type":"quantitative","scale":{"domain":[0.79038,0.80911],"nice":false,"zero":false},"axis":null},"text":{"field":"t","type":"nominal"}}},
{"data":{"values":[{"i":319.3,"p":0.80464,"t":"-3"}]},"mark":{"type":"text","color":"#ff2020","fontSize":10,"align":"left","baseline":"middle"},"encoding":{"x":{"field":"i","type":"quantitative","scale":{"domain":[0,329],"nice":false,"zero":false},"axis":null},"y":{"field":"p","type":"quantitative","scale":{"domain":[0.79038,0.80911],"nice":false,"zero":false},"axis":null},"text":{"field":"t","type":"nominal"}}},
{"data":{"values":[{"i":320.3,"p":0.80408,"t":"5"},{"i":320.3,"p":0.80347,"t":"5"}]},"mark":{"type":"text","color":"#2030ff","fontSize":10,"align":"left","baseline":"middle"},"encoding":{"x":{"field":"i","type":"quantitative","scale":{"domain":[0,329],"nice":false,"zero":false},"axis":null},"y":{"field":"p","type":"quantitative","scale":{"domain":[0.79038,0.80911],"nice":false,"zero":false},"axis":null},"text":{"field":"t","type":"nominal"}}}
]},
{"width":992,"height":122,"resolve":{"axis":{"x":"independent","y":"independent"}},"layer":[
{"data":{"name":"hist"},"mark":{"type":"rule","color":"#cfcfcf","strokeWidth":2},"encoding":{
"x":{"field":"i","type":"quantitative","scale":{"domain":[0,329],"nice":false,"zero":false},"axis":{"orient":"bottom","title":null,"values":[0,16,32,48,64,80,96,112,128,144,160,176,192,208,224,240,256],"labelExpr":"['5 Jul 2012','5 Jul 08:45','5 Jul 12:45','5 Jul 16:45','5 Jul 20:45','6 Jul 00:45','6 Jul 04:45','6 Jul 08:45','6 Jul 12:45','6 Jul 16:45','6 Jul 20:45','7 Jul 00:45','7 Jul 04:45','9 Jul 08:45','9 Jul 12:45','9 Jul 16:45','9 Jul 20:45'][round(datum.value/16)]","labelAlign":"left","labelOffset":2,"labelColor":"#f0f0f0","labelFontSize":7,"tickColor":"#d0d0d0","tickSize":3,"labelPadding":1,"domain":false,"grid":false,"labelFlush":false,"labelOverlap":false}},
"y":{"field":"v","type":"quantitative","scale":{"domain":[0,100],"nice":false,"zero":false},"axis":{"orient":"right","title":null,"values":[96.7,4.9],"labelExpr":"datum.value > 50 ? '0.7974' : '0.7854'","labelColor":"#f0f0f0","labelFontSize":7.5,"tickColor":"#d0d0d0","tickSize":3,"labelPadding":2,"domain":false,"grid":false,"labelFlush":false}},
"y2":{"field":"z"}}},
{"data":{"name":"days"},"mark":{"type":"rule","color":"#ffffff","strokeDash":[3,3],"strokeWidth":1},"encoding":{"x":{"field":"i","type":"quantitative","scale":{"domain":[0,329],"nice":false,"zero":false},"axis":null}}},
{"data":{"values":[{"i":0,"v":61.5},{"i":262,"v":61.5}]},"mark":{"type":"line","color":"#e6e6e6","strokeWidth":1.5},"encoding":{"x":{"field":"i","type":"quantitative","scale":{"domain":[0,329],"nice":false,"zero":false},"axis":null},"y":{"field":"v","type":"quantitative","scale":{"domain":[0,100],"nice":false,"zero":false},"axis":null}}},
{"data":{"name":"dspk"},"mark":{"type":"rule","color":"#c8c8c8","strokeWidth":3},"encoding":{"x":{"field":"i","type":"quantitative","scale":{"domain":[0,329],"nice":false,"zero":false},"axis":null},"y":{"field":"t","type":"quantitative","scale":{"domain":[0,100],"nice":false,"zero":false},"axis":null},"y2":{"field":"b"}}},
{"data":{"name":"dspk"},"mark":{"type":"rule","color":"#1f7f1f","strokeWidth":1},"encoding":{"x":{"field":"i","type":"quantitative","scale":{"domain":[0,329],"nice":false,"zero":false},"axis":null},"y":{"field":"t","type":"quantitative","scale":{"domain":[0,100],"nice":false,"zero":false},"axis":null},"y2":{"field":"b"}}},
{"data":{"name":"uspk"},"mark":{"type":"rule","color":"#e0a8a8","strokeWidth":3},"encoding":{"x":{"field":"i","type":"quantitative","scale":{"domain":[0,329],"nice":false,"zero":false},"axis":null},"y":{"field":"t","type":"quantitative","scale":{"domain":[0,100],"nice":false,"zero":false},"axis":null},"y2":{"field":"b"}}},
{"data":{"name":"uspk"},"mark":{"type":"rule","color":"#dd1111","strokeWidth":1},"encoding":{"x":{"field":"i","type":"quantitative","scale":{"domain":[0,329],"nice":false,"zero":false},"axis":null},"y":{"field":"t","type":"quantitative","scale":{"domain":[0,100],"nice":false,"zero":false},"axis":null},"y2":{"field":"b"}}},
{"data":{"name":"bluethin"},"mark":{"type":"line","color":"#3a8ee6","strokeWidth":1},"encoding":{"x":{"field":"i","type":"quantitative","scale":{"domain":[0,329],"nice":false,"zero":false},"axis":null},"y":{"field":"v","type":"quantitative","scale":{"domain":[0,100],"nice":false,"zero":false},"axis":null}}},
{"data":{"name":"redthin2"},"mark":{"type":"line","color":"#d01818","strokeWidth":1},"encoding":{"x":{"field":"i","type":"quantitative","scale":{"domain":[0,329],"nice":false,"zero":false},"axis":null},"y":{"field":"v","type":"quantitative","scale":{"domain":[0,100],"nice":false,"zero":false},"axis":null}}},
{"data":{"name":"stepred"},"mark":{"type":"line","color":"#e01010","strokeWidth":2.5},"encoding":{"x":{"field":"i","type":"quantitative","scale":{"domain":[0,329],"nice":false,"zero":false},"axis":null},"y":{"field":"v","type":"quantitative","scale":{"domain":[0,100],"nice":false,"zero":false},"axis":null},"detail":{"field":"s","type":"nominal"}}},
{"data":{"name":"stepgreen"},"mark":{"type":"line","color":"#22dd22","strokeWidth":2.5},"encoding":{"x":{"field":"i","type":"quantitative","scale":{"domain":[0,329],"nice":false,"zero":false},"axis":null},"y":{"field":"v","type":"quantitative","scale":{"domain":[0,100],"nice":false,"zero":false},"axis":null},"detail":{"field":"s","type":"nominal"}}},
{"data":{"name":"white"},"mark":{"type":"line","color":"#fff8e6","strokeWidth":2.5},"encoding":{"x":{"field":"i","type":"quantitative","scale":{"domain":[0,329],"nice":false,"zero":false},"axis":null},"y":{"field":"v","type":"quantitative","scale":{"domain":[0,100],"nice":false,"zero":false},"axis":null}}},
{"data":{"values":[{"i":15,"v":95},{"i":76,"v":86},{"i":111,"v":98},{"i":135,"v":87},{"i":181,"v":38},{"i":201,"v":43},{"i":247,"v":5},{"i":258,"v":11}]},"mark":{"type":"point","shape":"M0,-1L1,0H0.4V1H-0.4V0H-1Z","size":64,"filled":true,"color":"#ffff33","opacity":1},"encoding":{"x":{"field":"i","type":"quantitative","scale":{"domain":[0,329],"nice":false,"zero":false},"axis":null},"y":{"field":"v","type":"quantitative","scale":{"domain":[0,100],"nice":false,"zero":false},"axis":null}}},
{"data":{"values":[{"i":154,"v":52},{"i":200,"v":54},{"i":215,"v":64}]},"mark":{"type":"point","shape":"M0,-1L1,0H0.4V1H-0.4V0H-1Z","size":64,"filled":true,"color":"#33ff33","opacity":1},"encoding":{"x":{"field":"i","type":"quantitative","scale":{"domain":[0,329],"nice":false,"zero":false},"axis":null},"y":{"field":"v","type":"quantitative","scale":{"domain":[0,100],"nice":false,"zero":false},"axis":null}}},
{"data":{"values":[{"i":23,"v":97},{"i":65,"v":97},{"i":85,"v":95},{"i":115,"v":95},{"i":149,"v":99},{"i":163,"v":86},{"i":196,"v":70},{"i":206,"v":60},{"i":253,"v":20},{"i":262,"v":23}]},"mark":{"type":"point","shape":"M0,1L1,0H0.4V-1H-0.4V0H-1Z","size":64,"filled":true,"color":"#33d0f0","opacity":1},"encoding":{"x":{"field":"i","type":"quantitative","scale":{"domain":[0,329],"nice":false,"zero":false},"axis":null},"y":{"field":"v","type":"quantitative","scale":{"domain":[0,100],"nice":false,"zero":false},"axis":null}}},
{"data":{"values":[{"i":195,"v":79},{"i":219,"v":83}]},"mark":{"type":"point","shape":"M0,1L1,0H0.4V-1H-0.4V0H-1Z","size":64,"filled":true,"color":"#ff2020","opacity":1},"encoding":{"x":{"field":"i","type":"quantitative","scale":{"domain":[0,329],"nice":false,"zero":false},"axis":null},"y":{"field":"v","type":"quantitative","scale":{"domain":[0,100],"nice":false,"zero":false},"axis":null}}},
{"data":{"values":[{"i":1,"v":95,"t":"VQ | 5 . 3 . 2 . 1 | 0.7872 0.7872 0.7877  MACD(12,26,9) -0.00031 -0.00037 0.00006  CycleIdentifier 0.0000 0.7946  Kairi(SMA(200)) Apply to Close price -0.72328"},{"i":0.3,"v":5,"t":"MetaTrader 4 at FOREX.com, c 2001-2012, MetaQuotes Software Corp."}]},"mark":{"type":"text","color":"#ffffff","fontSize":7.5,"align":"left","baseline":"middle"},"encoding":{"x":{"field":"i","type":"quantitative","scale":{"domain":[0,329],"nice":false,"zero":false},"axis":null},"y":{"field":"v","type":"quantitative","scale":{"domain":[0,100],"nice":false,"zero":false},"axis":null},"text":{"field":"t","type":"nominal"}}}
]}
]
}
